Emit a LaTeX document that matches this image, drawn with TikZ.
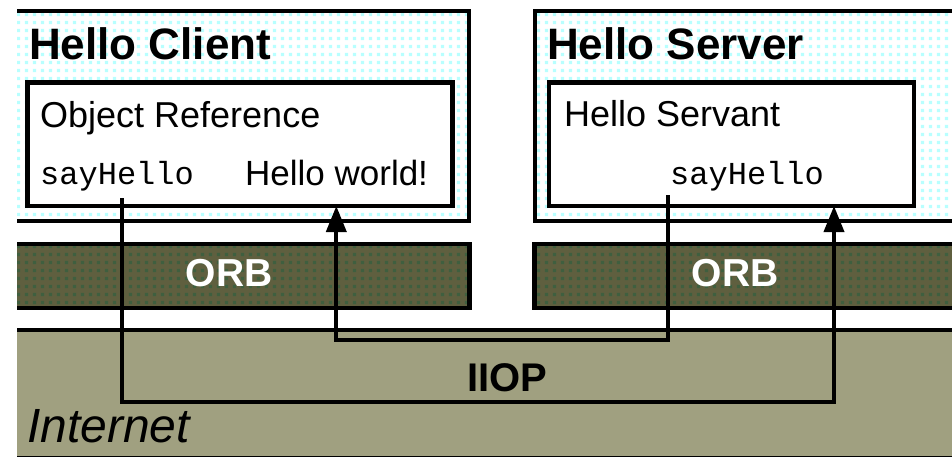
\documentclass[tikz,border=0pt]{standalone}
\usepackage{fontspec}
\setmainfont{Liberation Sans}
\setmonofont{Liberation Mono}
\usetikzlibrary{arrows.meta,patterns}
\pgfdeclarepatternformonly{pixdots}{\pgfpointorigin}{\pgfqpoint{8pt}{8pt}}{\pgfqpoint{8pt}{8pt}}{%
  \pgfpathrectangle{\pgfqpoint{1pt}{1pt}}{\pgfqpoint{3.6pt}{3.6pt}}\pgfusepath{fill}}
\definecolor{cyandot}{HTML}{B8FFFF}
\definecolor{orbbase}{HTML}{5F5F3F}
\definecolor{orbdot}{HTML}{3F5F3F}
\definecolor{netcol}{HTML}{A0A080}
\tikzset{
  hostbox/.style={draw, line width=4.5pt, inner sep=0pt, outer sep=0pt, anchor=north west,
    preaction={fill=white}, pattern=pixdots, pattern color=cyandot},
  objbox/.style={draw, line width=4.5pt, fill=white, inner sep=0pt, outer sep=0pt, anchor=north west},
  orbbox/.style={draw, line width=4.5pt, inner sep=0pt, outer sep=0pt, anchor=north west,
    preaction={fill=orbbase}, pattern=pixdots, pattern color=orbdot},
  netbox/.style={fill=netcol, inner sep=0pt, outer sep=0pt, anchor=north west},
  title/.style={anchor=base west, inner sep=0pt, font=\fontsize{44}{44}\selectfont\bfseries},
  label/.style={anchor=base west, inner sep=0pt, font=\fontsize{36}{36}\selectfont},
  code/.style={anchor=base west, inner sep=0pt, font=\fontsize{32}{32}\selectfont\ttfamily},
  orbtext/.style={anchor=base, inner sep=0pt, text=white, font=\fontsize{39}{39}\selectfont\bfseries},
  iioptext/.style={anchor=base, inner sep=0pt, font=\fontsize{40}{40}\selectfont\bfseries},
  nettext/.style={anchor=base west, inner sep=0pt, font=\fontsize{48}{48}\selectfont\itshape},
  wire/.style={line width=3.8pt, line join=miter, -{Triangle[width=20pt,length=26pt]}}
}
\begin{document}
\begin{tikzpicture}[x=1pt,y=-1pt]
\useasboundingbox[fill=white] (0,0) rectangle (952,457);
\begin{scope}
\clip (17,0) rectangle (952,457);
% hosts
\node[hostbox, minimum width=464pt, minimum height=210pt] (client) at (5,10.8) {};
\node[hostbox, minimum width=450pt, minimum height=210pt] (server) at (535,10.8) {};
\node[objbox, minimum width=425pt, minimum height=123.5pt] (cinner) at (27.5,82.5) {};
\node[objbox, minimum width=365pt, minimum height=123.5pt] (sinner) at (549,82.5) {};
% ORBs
\node[orbbox, minimum width=464.7pt, minimum height=64pt] (corb) at (5,244) {};
\node[orbbox, minimum width=450pt, minimum height=64pt] (sorb) at (534.5,244) {};
% Internet
\node[netbox, minimum width=960pt, minimum height=126.3pt] (net) at (5,329.7) {};
\draw[line width=4.2pt] (net.north west) -- (net.north east);
\draw[line width=1pt] (net.south west) -- (net.south east);
% texts
\node[title] (ctitle) at (29,60) {Hello Client};
\node[title] (stitle) at (547,60) {Hello Server};
\node[label] (objref) at (40,128) {Object Reference};
\node[code] (csay) at (40,185) {sayHello};
\node[label, font=\fontsize{35}{35}\selectfont] (world) at (245,185.5) {Hello world!};
\node[label] (servant) at (564,126.7) {Hello Servant};
\node[code] (ssay) at (670,185) {sayHello};
\node[orbtext] (corbt) at (229,286.5) {ORB};
\node[orbtext] (sorbt) at (735,286.5) {ORB};
\node[iioptext] (iiop) at (507.5,391.7) {IIOP};
\node[nettext] (inet) at (27,442.7) {Internet};
% connectors
\coordinate (c1s) at (122,198);
\coordinate (c1c) at (834,401.7);
\draw[wire] (c1s) |- (c1c) -- (c1c |- sinner.south);
\coordinate (c2s) at (668,195);
\coordinate (c2c) at (336.3,340.3);
\draw[wire] (c2s) |- (c2c) -- (c2c |- cinner.south);
\end{scope}
\end{tikzpicture}
\end{document}
